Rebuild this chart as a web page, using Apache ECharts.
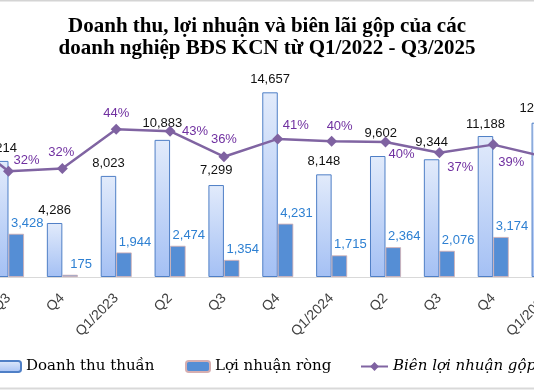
<!DOCTYPE html>
<html>
<head>
<meta charset="utf-8">
<script src="https://cdn.jsdelivr.net/npm/echarts@6/dist/echarts.min.js"></script>
<style>html,body{margin:0;padding:0;background:#fff;overflow:hidden}#c{width:534px;height:390px}</style>
</head>
<body>
<div id="c"></div>
<script>
// Categories (the picture shows Q3/2022 ... Q1/2025, cropped at both edges)
const categories = ['Q2','Q3','Q4','Q1/2023','Q2','Q3','Q4','Q1/2024','Q2','Q3','Q4','Q1/2025'];
// Doanh thu thuần (tỷ đồng)
const revenue = [null, 9214, 4286, 8023, 10883, 7299, 14657, 8148, 9602, 9344, 11188, 12246];
// Lợi nhuận ròng (tỷ đồng)
const profit = [null, 3428, 175, 1944, 2474, 1354, 4231, 1715, 2364, 2076, 3174, null];
// Biên lợi nhuận gộp (%)
const margin = [44, 31.5, 32.3, 44.0, 43.4, 35.8, 41.1, 40.4, 40.2, 37.0, 39.4, 35.6];

// label placement (layout only)
const marginLabelOffset = [[0,-16],[18,-11],[-1,-16],[0,-16],[25,0],[0,-17],[18,-13],[8,-15],[16,12],[21,15],[18,18],[0,-16]];
const revenueLabelOffset = [[0,0],[0,0],[0,0],[0,0],[0,-4],[0,-2],[0,0],[0,0],[3,-10],[0,-4],[0,1],[0,-2]];

const fmt = v => v.toLocaleString('en-US');

const chart = echarts.init(document.getElementById('c'), null, {renderer:'canvas'});
const catFont = 'Liberation Sans';
chart.setOption({
  backgroundColor: '#ffffff',
  animation: false,
  title: {
    text: 'Doanh thu, lợi nhuận và biên lãi gộp của các\ndoanh nghiệp BĐS KCN từ Q1/2022 - Q3/2025',
    left: 'center', top: 11,
    textStyle: {fontFamily:'Liberation Serif', fontWeight:'bold', fontSize:21, lineHeight:22, color:'#000'}
  },
  grid: {left: -72.3, right: -40, top: 75.4, bottom: 113, outerBoundsMode: 'none', containLabel: false},
  xAxis: {
    type: 'category', data: categories,
    axisLine: {show:true, lineStyle:{color:'#d9d9d9', width:1}},
    axisTick: {show:false},
    axisLabel: {rotate:45, margin:19, color:'#404040', fontFamily:catFont, fontSize:14, interval:0}
  },
  yAxis: [
    {type:'value', min:0, max:16000, show:false, splitLine:{show:false}},
    {type:'value', min:0, max:60, show:false, splitLine:{show:false}}
  ],
  legend: [
    {data:['Doanh thu thuần'], left:-4, top:359, padding:0, itemWidth:24, itemHeight:11,
     textStyle:{fontFamily:'DejaVu Serif', fontSize:15, color:'#000'}},
    {data:['Lợi nhuận ròng'], left:185, top:359, padding:0, itemWidth:24, itemHeight:11,
     textStyle:{fontFamily:'DejaVu Serif', fontSize:15, color:'#000'}},
    {data:['Biên lợi nhuận gộp'], left:360, top:359, padding:0, itemWidth:27, itemHeight:11,
     textStyle:{fontFamily:'DejaVu Serif', fontStyle:'italic', fontSize:15, color:'#000'}}
  ],
  series: [
    {
      name:'Doanh thu thuần', type:'bar', yAxisIndex:0, barWidth:15.5, barGap:'0%',
      itemStyle:{
        color:new echarts.graphic.LinearGradient(0,0,0,1,[{offset:0,color:'#e2ebfb'},{offset:1,color:'#a4c0f4'}]),
        borderColor:'#4f7fc6', borderWidth:1
      },
      label:{show:true, position:'top', distance:6, color:'#111', fontFamily:catFont, fontSize:13,
             formatter:p=>fmt(p.value)},
      data: revenue.map((v,i)=>({value:v, label:{offset:revenueLabelOffset[i]}}))
    },
    {
      name:'Lợi nhuận ròng', type:'bar', yAxisIndex:0, barWidth:15.5, barGap:'0%',
      itemStyle:{color:'#558ed5', borderColor:'#d6aeb0', borderWidth:0.8},
      label:{show:true, position:'top', distance:4, offset:[11,0], color:'#2e80d2', fontFamily:catFont, fontSize:13,
             formatter:p=>fmt(p.value)},
      data: profit
    },
    {
      name:'Biên lợi nhuận gộp', type:'line', yAxisIndex:1,
      symbol:'diamond', symbolSize:11, 
      lineStyle:{color:'#8064a2', width:2.5},
      itemStyle:{color:'#7f62a1'},
      label:{show:true, position:'inside', color:'#7030a0', fontFamily:catFont, fontSize:13,
             formatter:p=>Math.round(p.value)+'%'},
      data: margin.map((v,i)=>({value:v, label:{offset:marginLabelOffset[i]}})),
      z:5
    }
  ],
  graphic: [
    {type:'rect', shape:{x:0,y:0,width:534,height:1.5}, style:{fill:'#d4d4d4'}, silent:true},
    {type:'rect', shape:{x:0,y:387.5,width:534,height:2}, style:{fill:'#d9d9d9'}, silent:true}
  ]
});
</script>
</body>
</html>
